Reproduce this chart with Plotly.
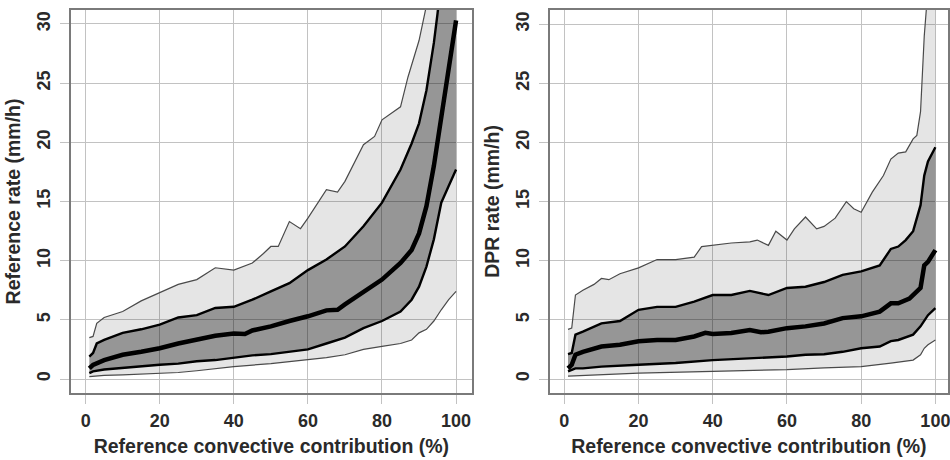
import plotly.graph_objects as go

# ---------------- Left panel: Reference rate ----------------
left_outer_hi_x = [1, 2, 3, 5, 10, 15, 20, 25, 30, 35, 40, 45, 48, 50, 52, 55, 58, 60, 65, 68, 70, 75, 78, 80, 85, 87, 90, 92, 95, 100]
left_outer_hi_y = [3.5, 3.6, 4.7, 5.2, 5.7, 6.6, 7.3, 8.0, 8.4, 9.4, 9.2, 9.8, 10.6, 11.2, 11.2, 13.3, 12.7, 13.6, 16.0, 15.8, 16.7, 19.8, 20.5, 21.9, 23.0, 25.5, 28.6, 31.5, 36, 45]

left_inner_hi_x = [1, 2, 3, 5, 10, 15, 20, 25, 30, 35, 40, 45, 50, 55, 60, 65, 70, 75, 80, 85, 88, 90, 92, 94, 95, 96, 100]
left_inner_hi_y = [1.9, 2.2, 3.0, 3.3, 3.9, 4.2, 4.6, 5.2, 5.4, 6.0, 6.1, 6.7, 7.4, 8.1, 9.2, 10.1, 11.2, 12.9, 14.9, 17.7, 19.9, 21.6, 24.4, 28.4, 30.9, 34, 45]

left_median_x = [1, 2, 5, 10, 15, 20, 25, 30, 35, 40, 43, 45, 50, 55, 60, 65, 68, 70, 75, 80, 85, 88, 90, 92, 94, 96, 98, 99, 100]
left_median_y = [0.9, 1.2, 1.6, 2.05, 2.3, 2.6, 3.0, 3.3, 3.65, 3.85, 3.8, 4.1, 4.45, 4.9, 5.3, 5.8, 5.85, 6.3, 7.4, 8.4, 9.8, 10.9, 12.3, 14.6, 18.0, 22.2, 26.4, 28.4, 30.3]

left_inner_lo_x = [1, 2, 5, 10, 15, 20, 25, 30, 35, 40, 45, 50, 55, 60, 65, 70, 75, 80, 85, 88, 90, 92, 94, 96, 98, 100]
left_inner_lo_y = [0.5, 0.65, 0.8, 0.95, 1.1, 1.2, 1.3, 1.5, 1.6, 1.8, 2.0, 2.1, 2.3, 2.5, 3.0, 3.5, 4.3, 4.9, 5.7, 6.7, 7.8, 9.5, 11.8, 14.9, 16.3, 17.7]

left_outer_lo_x = [1, 5, 10, 20, 25, 30, 40, 50, 60, 65, 70, 75, 80, 85, 88, 90, 92, 94, 96, 98, 100]
left_outer_lo_y = [0.2, 0.3, 0.35, 0.5, 0.55, 0.7, 1.05, 1.3, 1.6, 1.8, 2.05, 2.5, 2.75, 3.0, 3.3, 3.9, 4.2, 4.9, 5.85, 6.7, 7.4]

# ---------------- Right panel: DPR rate ----------------
right_outer_hi_x = [1, 2, 3, 5, 8, 10, 12, 15, 20, 25, 30, 35, 37, 40, 45, 50, 52, 55, 57, 60, 62, 65, 68, 70, 73, 76, 78, 80, 83, 86, 88, 90, 92, 94, 95, 96, 97, 98, 100]
right_outer_hi_y = [4.2, 4.3, 7.1, 7.5, 8.0, 8.5, 8.4, 8.9, 9.4, 10.1, 10.1, 10.3, 11.2, 11.3, 11.5, 11.6, 11.75, 11.3, 12.5, 11.75, 12.7, 13.7, 12.7, 12.9, 13.6, 15.0, 14.4, 14.1, 15.8, 17.2, 18.6, 19.1, 19.2, 20.3, 20.6, 22.6, 29, 33, 40]

right_inner_hi_x = [1, 2, 3, 5, 10, 15, 20, 25, 30, 35, 40, 45, 50, 55, 60, 65, 70, 75, 80, 85, 88, 90, 92, 94, 96, 97, 98, 100]
right_inner_hi_y = [2.1, 2.2, 3.75, 4.0, 4.7, 4.9, 5.85, 6.1, 6.1, 6.55, 7.1, 7.1, 7.45, 7.1, 7.7, 7.8, 8.2, 8.8, 9.1, 9.6, 11.0, 11.2, 11.75, 12.5, 14.7, 17.2, 18.4, 19.6]

right_median_x = [1, 2, 3, 5, 10, 15, 20, 25, 30, 35, 38, 40, 45, 50, 53, 55, 60, 65, 70, 75, 80, 85, 88, 90, 93, 96, 97, 98, 100]
right_median_y = [0.9, 1.2, 2.05, 2.3, 2.75, 2.9, 3.2, 3.3, 3.3, 3.6, 3.9, 3.8, 3.9, 4.15, 3.95, 4.0, 4.3, 4.45, 4.7, 5.15, 5.3, 5.7, 6.4, 6.4, 6.8, 7.7, 9.6, 9.9, 10.9]

right_inner_lo_x = [1, 3, 5, 10, 20, 30, 40, 50, 60, 65, 70, 75, 80, 85, 88, 90, 94, 96, 98, 100]
right_inner_lo_y = [0.65, 0.9, 0.9, 1.05, 1.2, 1.35, 1.6, 1.75, 1.9, 2.05, 2.1, 2.3, 2.6, 2.75, 3.2, 3.3, 3.75, 4.45, 5.4, 6.0]

right_outer_lo_x = [1, 10, 20, 40, 60, 70, 80, 88, 94, 96, 97, 98, 100]
right_outer_lo_y = [0.25, 0.35, 0.5, 0.65, 0.8, 0.95, 1.05, 1.35, 1.6, 2.05, 2.6, 2.9, 3.3]

x_ticks = [0, 20, 40, 60, 80, 100]
y_ticks = [0, 5, 10, 15, 20, 25, 30]
x_title = "Reference convective contribution (%)"
y_titles = ["Reference rate (mm/h)", "DPR rate (mm/h)"]

LIGHT = "rgba(0,0,0,0.10)"
DARK = "rgba(0,0,0,0.345)"
THIN = dict(color="#4a4a4a", width=1.2)
MID = dict(color="black", width=2.4)
THICK = dict(color="black", width=4.5)

fig = go.Figure()

def add_panel(xa, ya, olx, oly, ohx, ohy, ilx, ily, ihx, ihy, mx, my):
    common = dict(xaxis=xa, yaxis=ya, mode="lines", hoverinfo="skip", showlegend=False)
    fig.add_trace(go.Scatter(x=olx, y=oly, line=THIN, **common))
    fig.add_trace(go.Scatter(x=ohx, y=ohy, line=THIN, fill="tonexty", fillcolor=LIGHT, **common))
    fig.add_trace(go.Scatter(x=ilx, y=ily, line=MID, **common))
    fig.add_trace(go.Scatter(x=ihx, y=ihy, line=MID, fill="tonexty", fillcolor=DARK, **common))
    fig.add_trace(go.Scatter(x=mx, y=my, line=THICK, **common))

add_panel("x", "y", left_outer_lo_x, left_outer_lo_y, left_outer_hi_x, left_outer_hi_y,
          left_inner_lo_x, left_inner_lo_y, left_inner_hi_x, left_inner_hi_y,
          left_median_x, left_median_y)
add_panel("x2", "y2", right_outer_lo_x, right_outer_lo_y, right_outer_hi_x, right_outer_hi_y,
          right_inner_lo_x, right_inner_lo_y, right_inner_hi_x, right_inner_hi_y,
          right_median_x, right_median_y)

FONT = dict(family="Liberation Sans, Arial, sans-serif", size=18, color="#2a2a2a", weight="bold")
TITLE_FONT = dict(family="Liberation Sans, Arial, sans-serif", size=19.5, color="#2a2a2a", weight="bold")
GRID = "#c2c2c2"
FRAME = "#7a7a7a"

def xaxis(domain, rng, anchor):
    return dict(domain=domain, range=rng, anchor=anchor, tickvals=x_ticks, showgrid=True,
                gridcolor=GRID, gridwidth=1, zeroline=False, showline=True, mirror=True,
                linecolor=FRAME, linewidth=1.5, ticks="outside", ticklen=9, tickcolor=GRID,
                tickwidth=1, tickfont=FONT, ticklabelstandoff=2, ticklabeloverflow="allow",
                title=dict(text=x_title, font=TITLE_FONT, standoff=9))

def yaxis(rng, anchor, title):
    return dict(domain=[0.1457, 0.9783], range=rng, anchor=anchor, tickvals=y_ticks,
                showgrid=True, gridcolor=GRID, gridwidth=1, zeroline=False, showline=True,
                mirror=True, linecolor=FRAME, linewidth=1.5, ticks="outside", ticklen=9,
                tickcolor=GRID, tickwidth=1, tickfont=FONT, tickangle=-90,
                ticklabelstandoff=3,
                title=dict(text=title, font=TITLE_FONT, standoff=8))

fig.update_layout(
    width=950, height=460,
    margin=dict(l=0, r=0, t=0, b=0),
    paper_bgcolor="white", plot_bgcolor="white",
    xaxis=xaxis([0.0747, 0.4979], [-4.0, 104.3], "y"),
    yaxis=yaxis([-1.18, 31.18], "x", y_titles[0]),
    xaxis2=xaxis([0.58, 1.0], [-3.9, 103.4], "y2"),
    yaxis2=yaxis([-1.18, 31.2], "x2", y_titles[1]),
)

fig.write_html("out.html")
